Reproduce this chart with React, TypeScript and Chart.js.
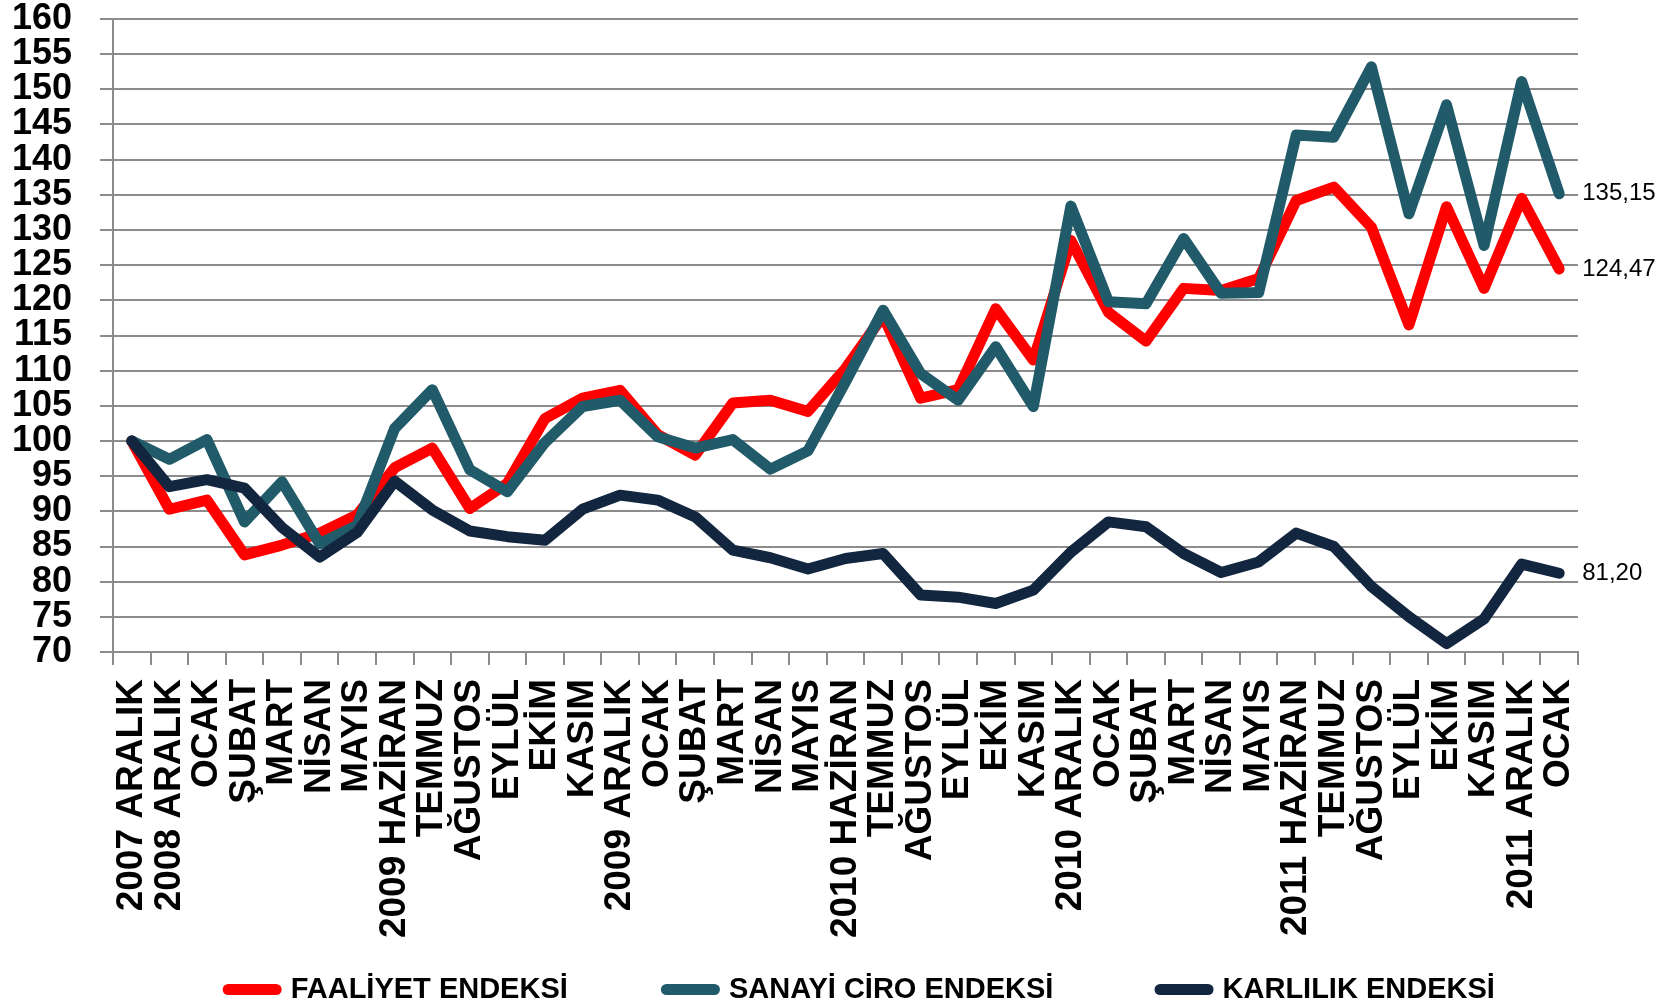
import React, { useEffect, useRef } from 'react';
import { Chart, registerables } from 'chart.js';

Chart.register(...registerables);

const categories = [
  '2007 ARALIK', '2008 ARALIK', 'OCAK', 'ŞUBAT', 'MART', 'NİSAN', 'MAYIS',
  '2009 HAZİRAN', 'TEMMUZ', 'AĞUSTOS', 'EYLÜL', 'EKİM', 'KASIM',
  '2009 ARALIK', 'OCAK', 'ŞUBAT', 'MART', 'NİSAN', 'MAYIS',
  '2010 HAZİRAN', 'TEMMUZ', 'AĞUSTOS', 'EYLÜL', 'EKİM', 'KASIM',
  '2010 ARALIK', 'OCAK', 'ŞUBAT', 'MART', 'NİSAN', 'MAYIS',
  '2011 HAZİRAN', 'TEMMUZ', 'AĞUSTOS', 'EYLÜL', 'EKİM', 'KASIM',
  '2011 ARALIK', 'OCAK',
];

const faaliyet = [
  100, 90.3, 91.6, 83.8, 85.2, 86.9, 89.5, 96.2, 99.0, 90.4, 94.0, 103.2, 106.1,
  107.2, 100.9, 98.0, 105.4, 105.8, 104.2, 110.3, 117.8, 106.1, 107.3, 118.8, 111.5,
  128.5, 118.3, 114.2, 121.7, 121.4, 123.1, 134.2, 136.1, 130.4, 116.5, 133.3, 121.7,
  134.5, 124.47,
];

const sanayiCiro = [
  100, 97.4, 100.2, 88.5, 94.2, 85.4, 88.0, 101.8, 107.3, 95.9, 92.8, 99.8, 104.9,
  105.8, 100.6, 99.0, 100.2, 96.0, 98.6, 108.4, 118.6, 109.6, 105.8, 113.4, 104.9,
  133.4, 119.8, 119.5, 128.8, 121.0, 121.1, 143.5, 143.2, 153.2, 132.3, 147.8, 127.8,
  151.1, 135.15,
];

const karlilik = [
  100, 93.5, 94.5, 93.3, 87.7, 83.5, 87.0, 94.3, 90.2, 87.2, 86.4, 85.9, 90.3,
  92.3, 91.6, 89.2, 84.5, 83.4, 81.8, 83.3, 84.0, 78.1, 77.8, 76.9, 78.8,
  84.2, 88.5, 87.8, 84.0, 81.3, 82.8, 86.9, 85.0, 79.3, 75.0, 71.2, 74.7,
  82.5, 81.2,
];

const seriesNames = ['FAALİYET ENDEKSİ', 'SANAYİ CİRO ENDEKSİ', 'KARLILIK ENDEKSİ'];
const seriesColors = ['#FF0000', '#215A69', '#13263F'];

const yMin = 70;
const yMax = 160;
const yStep = 5;

const FONT = "'Liberation Sans', Arial, sans-serif";
const GRID = '#8c8c8c';
const legendGaps = [11, 12, 0];

export default function App() {
  const ref = useRef<HTMLCanvasElement>(null);

  useEffect(() => {
    document.body.style.margin = '0';
    document.body.style.overflow = 'hidden';
    const series = [faaliyet, sanayiCiro, karlilik];

    const endLabels = {
      id: 'endLabels',
      afterLayout(chart: any) {
        const l = chart.legend;
        if (l) {
          l.left += 16;
          l.right += 16;
        }
      },
      afterDatasetsDraw(chart: any) {
        const ctx = chart.ctx;
        chart.data.datasets.forEach((ds: any, i: number) => {
          const meta = chart.getDatasetMeta(i);
          const pt = meta.data[meta.data.length - 1];
          const v = ds.data[ds.data.length - 1] as number;
          ctx.save();
          ctx.font = `24px ${FONT}`;
          ctx.fillStyle = '#000';
          ctx.textAlign = 'left';
          ctx.textBaseline = 'middle';
          ctx.fillText(v.toFixed(2).replace('.', ','), pt.x + 23, pt.y);
          ctx.restore();
        });
      },
    };

    const chart = new Chart(ref.current!, {
      type: 'line',
      data: {
        labels: categories,
        datasets: series.map((data, i) => ({
          label: seriesNames[i],
          data,
          borderColor: seriesColors[i],
          backgroundColor: seriesColors[i],
          borderWidth: 11,
          pointRadius: 0,
          pointHoverRadius: 0,
          tension: 0,
          fill: false,
          borderCapStyle: 'round',
          borderJoinStyle: 'round',
          order: 3 - i,
        })) as any,
      },
      options: {
        animation: false,
        responsive: false,
        events: [],
        layout: { padding: { left: 0, right: 94, top: 19, bottom: 0 } },
        scales: {
          x: {
            type: 'category',
            offset: true,
            grid: {
              offset: true,
              drawOnChartArea: false,
              drawTicks: true,
              tickLength: 13,
              color: GRID,
              lineWidth: 2,
            },
            border: { display: true, color: GRID, width: 2 },
            ticks: {
              autoSkip: false,
              maxRotation: 90,
              minRotation: 90,
              padding: 14,
              color: '#000',
              font: { family: FONT, size: 37, weight: 'bold', lineHeight: 1 },
            },
            afterFit: (scale: any) => {
              scale.height = 313;
            },
          },
          y: {
            type: 'linear',
            min: yMin,
            max: yMax,
            grid: {
              color: GRID,
              lineWidth: 2,
              drawTicks: true,
              tickLength: 13,
            },
            border: { display: true, color: GRID, width: 2 },
            ticks: {
              stepSize: yStep,
              autoSkip: false,
              padding: 28,
              color: '#000',
              font: { family: FONT, size: 36, weight: 'bold', lineHeight: 1 },
            },
            afterFit: (scale: any) => {
              scale.width = 113;
              scale.paddingTop = 0;
              scale.paddingBottom = 0;
            },
          },
        },
        plugins: {
          tooltip: { enabled: false },
          legend: {
            display: true,
            position: 'bottom',
            fullSize: false,
            labels: {
              usePointStyle: true,
              pointStyleWidth: 48,
              padding: 10,
              color: '#000',
              font: { family: FONT, size: 29, weight: 'bold' },
              generateLabels: (c: any) =>
                c.data.datasets.map((ds: any, i: number) => ({
                  text: ds.label + ' '.repeat(legendGaps[i]),
                  fillStyle: ds.borderColor,
                  strokeStyle: ds.borderColor,
                  lineWidth: 11,
                  lineCap: 'round',
                  pointStyle: 'line',
                  hidden: false,
                  datasetIndex: i,
                  fontColor: '#000',
                })),
            },
          },
        },
      } as any,
      plugins: [endLabels],
    });

    return () => chart.destroy();
  }, []);

  return <canvas ref={ref} width={1672} height={1014} style={{ display: 'block' }} />;
}
